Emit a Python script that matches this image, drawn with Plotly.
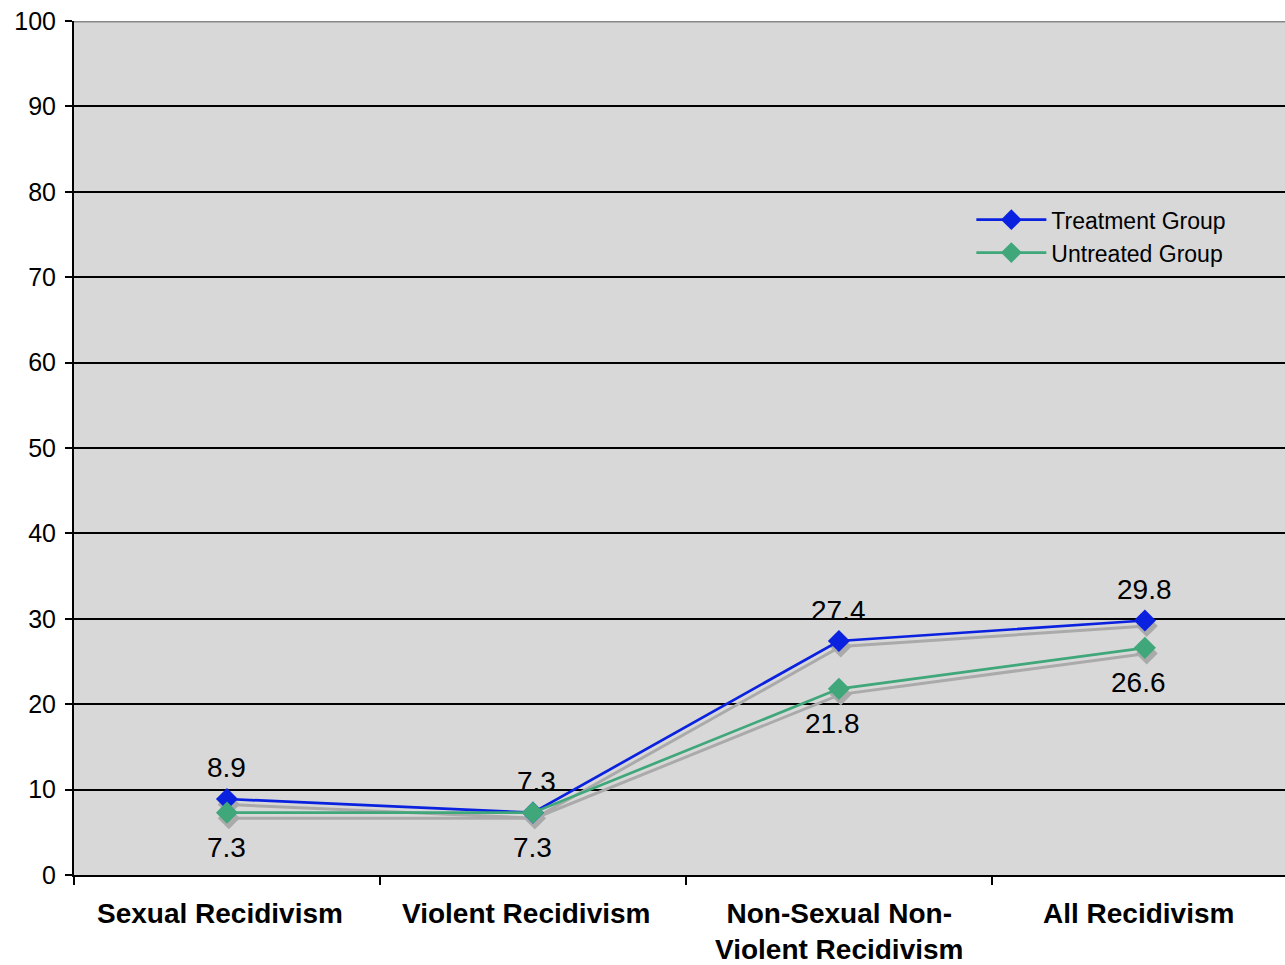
import plotly.graph_objects as go

categories = ["Sexual Recidivism", "Violent Recidivism",
              "Non-Sexual Non-<br>Violent Recidivism", "All Recidivism"]
treatment = [8.9, 7.3, 27.4, 29.8]
untreated = [7.3, 7.3, 21.8, 26.6]
y_ticks = [0, 10, 20, 30, 40, 50, 60, 70, 80, 90, 100]

BLUE = "#0A22E0"
GREEN = "#3FA77A"
SHADOW = "#AAAAAA"
FONT = "Liberation Sans, Arial, sans-serif"

xs = list(range(len(categories)))

fig = go.Figure()

# soft drop shadows beneath each series
for vals in (treatment, untreated):
    fig.add_trace(go.Scatter(
        x=[x + 0.006 for x in xs], y=[v - 0.65 for v in vals],
        mode="lines+markers", showlegend=False, hoverinfo="skip",
        line=dict(color=SHADOW, width=3),
        marker=dict(symbol="diamond", size=17, color=SHADOW),
    ))

fig.add_trace(go.Scatter(
    x=xs, y=treatment, name="Treatment Group", mode="lines+markers",
    line=dict(color=BLUE, width=2.7),
    marker=dict(symbol="diamond", size=17, color=BLUE),
))
fig.add_trace(go.Scatter(
    x=xs, y=untreated, name="Untreated Group", mode="lines+markers",
    line=dict(color=GREEN, width=2.7),
    marker=dict(symbol="diamond", size=17, color=GREEN),
))

annotations = []
for x, v in zip(xs, treatment):
    annotations.append(dict(x=x, y=v, xref="x", yref="y", text=f"{v:.1f}",
                            showarrow=False, yshift=31, xshift=4 if x == 1 else 0,
                            font=dict(family=FONT, size=28, color="black")))
for x, v in zip(xs, untreated):
    annotations.append(dict(x=x, y=v, xref="x", yref="y", text=f"{v:.1f}",
                            showarrow=False, yshift=-35, xshift=-6 if x > 1 else 0,
                            font=dict(family=FONT, size=28, color="black")))
for x, c in zip(xs, categories):
    annotations.append(dict(x=x - 0.022 if x != 2 else x, y=0, xref="x", yref="paper",
                            text=f"<b>{c}</b>", showarrow=False, yanchor="top", yshift=-21,
                            font=dict(family=FONT, size=28, color="black")))

fig.update_layout(
    width=1285, height=965,
    margin=dict(l=74, r=0, t=21, b=90),
    paper_bgcolor="white", plot_bgcolor="#D8D8D8",
    font=dict(family=FONT, size=20, color="black"),
    xaxis=dict(range=[-0.5, 3.458], tickmode="array",
               tickvals=[-0.5, 0.5, 1.5, 2.5], ticktext=["", "", "", ""],
               ticks="outside", ticklen=8, tickwidth=2, tickcolor="black",
               showgrid=False, zeroline=False,
               showline=True, linecolor="black", linewidth=2),
    yaxis=dict(range=[0, 100], tickmode="array", tickvals=y_ticks,
               ticks="outside", ticklen=7, tickwidth=2, tickcolor="black",
               ticklabelstandoff=4,
               showgrid=True, gridcolor="black", gridwidth=2,
               zeroline=False, showline=True, linecolor="black", linewidth=2,
               tickfont=dict(family=FONT, size=25, color="black")),
    legend=dict(x=0.741, y=0.748, xanchor="left", yanchor="middle",
                bgcolor="rgba(0,0,0,0)", font=dict(family=FONT, size=23, color="black"),
                tracegroupgap=0, itemwidth=70),
    annotations=annotations,
    shapes=[dict(type="line", xref="paper", yref="y", x0=0, x1=1, y0=100, y1=100,
                 line=dict(color="#888888", width=3))],
)

fig.write_html("out.html")
